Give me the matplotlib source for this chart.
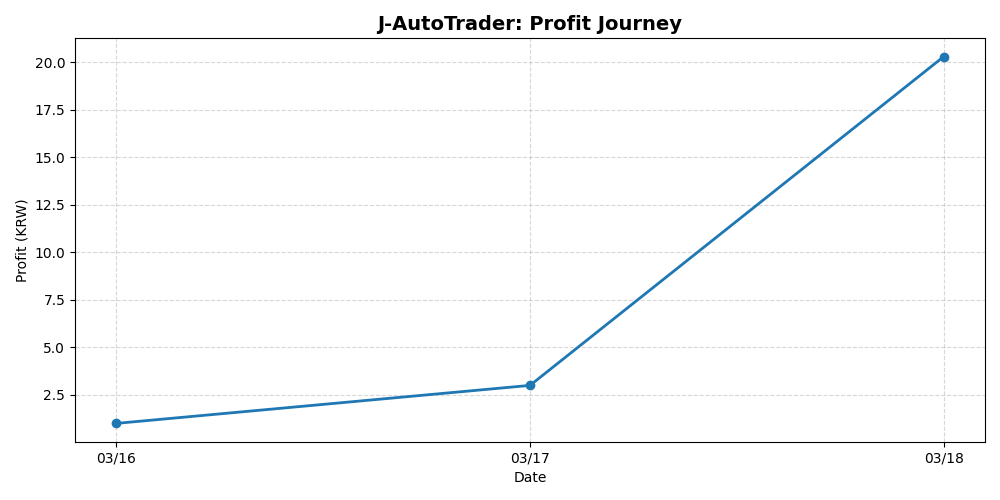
import matplotlib
matplotlib.use("Agg")
import matplotlib.pyplot as plt

dates = ["03/16", "03/17", "03/18"]
profit = [1.0, 3.0, 20.3]

fig, ax = plt.subplots(figsize=(10, 5), dpi=100)
ax.plot(dates, profit, marker="o", linewidth=2, color="#1f77b4")
ax.set_title("J-AutoTrader: Profit Journey", fontsize=14, fontweight="bold")
ax.set_xlabel("Date")
ax.set_ylabel("Profit (KRW)")
ax.grid(True, linestyle="--", alpha=0.5)
fig.tight_layout()
fig.savefig("out.png")
